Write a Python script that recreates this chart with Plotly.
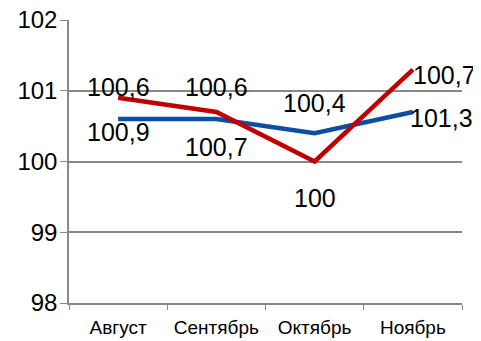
import plotly.graph_objects as go

months = ["Август", "Сентябрь", "Октябрь", "Ноябрь"]
blue_vals = [100.6, 100.6, 100.4, 100.7]
red_vals = [100.9, 100.7, 100.0, 101.3]
y_ticks = [98, 99, 100, 101, 102]

# label offsets in pixels (x, y), y positive = up
blue_off = [(0, 32), (0, 32), (0, 30), (32, 37)]
red_off = [(0, -34), (0, -35), (0, -36), (29, -48)]

def fmt(v):
    s = ("%.1f" % v).rstrip("0").rstrip(".")
    return s.replace(".", ",")

BLUE = "#0B4EA2"
RED = "#C00000"
FONT = "Liberation Sans, Arial, sans-serif"

fig = go.Figure()
fig.add_trace(go.Scatter(x=months, y=blue_vals, mode="lines",
                         line=dict(color=BLUE, width=4.5), showlegend=False))
fig.add_trace(go.Scatter(x=months, y=red_vals, mode="lines",
                         line=dict(color=RED, width=4.5), showlegend=False))

for vals, offs in ((blue_vals, blue_off), (red_vals, red_off)):
    for m, v, (dx, dy) in zip(months, vals, offs):
        fig.add_annotation(x=m, y=v, text=fmt(v), showarrow=False,
                           xshift=dx, yshift=dy,
                           font=dict(family=FONT, size=25, color="#000000"))

fig.update_layout(
    width=473, height=333,
    margin=dict(l=61, r=19, t=12, b=38),
    paper_bgcolor="white", plot_bgcolor="white",
    font=dict(family=FONT, color="#000000"),
)
fig.update_xaxes(
    type="category", range=[-0.5, 3.5],
    showgrid=False, showline=True, linecolor="#888888", linewidth=1.5,
    ticks="outside", tickson="boundaries", ticklen=5, tickcolor="#888888",
    tickfont=dict(family=FONT, size=19), tickangle=0, automargin=False,
    ticklabeloverflow="allow", ticklabelstandoff=6,
)
fig.update_yaxes(
    range=[98, 102], tickvals=y_ticks, ticktext=[str(t) for t in y_ticks],
    showgrid=True, gridcolor="#888888", gridwidth=1.5,
    showline=True, linecolor="#888888", linewidth=1.5,
    ticks="outside", ticklen=7, tickcolor="#888888",
    tickfont=dict(family=FONT, size=24), zeroline=False, automargin=False,
    ticklabeloverflow="allow", ticklabelstandoff=-2,
)

fig.write_html("out.html")
